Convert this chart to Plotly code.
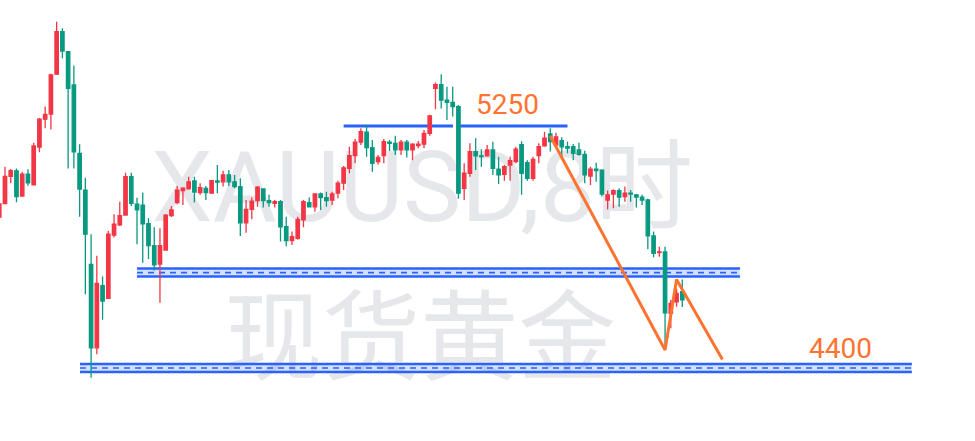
import plotly.graph_objects as go

# XAUUSD 8H candles, oldest first (prices)
opens = [4930, 4977, 5073, 5092, 5004, 5081, 5043, 5176, 5274, 5292,
         5432, 5581, 5511, 5394, 5154, 5025, 4764, 4471, 4689, 4645,
         4867, 4903, 4937, 5072, 4975, 4972, 4907, 4830, 4765, 4814,
         4935, 4981, 5023, 5029, 5057, 5016, 5031, 5014, 5057, 5054,
         5078, 5054, 5037, 4910, 4957, 4988, 5029, 4988, 4978, 4984,
         4896, 4847, 4855, 4920, 4981, 4966, 5011, 4998, 4990, 5014,
         5049, 5101, 5146, 5193, 5228, 5174, 5125, 5146, 5193, 5189,
         5166, 5193, 5166, 5181, 5186, 5224, 5382, 5395, 5341, 5333,
         5318, 5031, 5084, 5160, 5145, 5145, 5166, 5098, 5080, 5113,
         5125, 5184, 5121, 5066, 5146, 5180, 5222, 5183, 5198, 5177,
         5177, 5166, 5150, 5074, 5098, 5095, 4990, 5011, 5023, 5002,
         5014, 5008, 5000, 4990, 4864, 4805, 4808, 4592, 4632, 4668]
highs = [4983, 5107, 5099, 5101, 5089, 5098, 5191, 5278, 5318, 5433,
         5616, 5593, 5513, 5462, 5186, 5068, 4870, 4794, 4721, 4881,
         4940, 4984, 5086, 5086, 4998, 5016, 4926, 4894, 4891, 4941,
         4969, 5039, 5035, 5072, 5072, 5049, 5039, 5060, 5113, 5093,
         5095, 5078, 5066, 4990, 4999, 5039, 5030, 5008, 4990, 4990,
         4931, 4879, 4931, 4990, 4999, 5014, 5016, 5019, 5019, 5058,
         5109, 5177, 5204, 5242, 5253, 5201, 5148, 5204, 5201, 5216,
         5201, 5201, 5189, 5197, 5236, 5289, 5403, 5432, 5388, 5388,
         5324, 5119, 5189, 5207, 5168, 5183, 5195, 5142, 5113, 5142,
         5177, 5196, 5130, 5142, 5189, 5230, 5242, 5226, 5210, 5195,
         5187, 5191, 5163, 5107, 5121, 5098, 5023, 5028, 5031, 5037,
         5025, 5011, 5008, 4994, 4879, 4826, 4826, 4639, 4679, 4711]
lows = [4927, 4976, 5049, 4982, 5001, 5040, 5041, 5158, 5242, 5238,
        5429, 5488, 5101, 5101, 4931, 4659, 4366, 4448, 4569, 4642,
        4858, 4899, 4936, 4969, 4835, 4770, 4783, 4742, 4629, 4813,
        4930, 4975, 4972, 5027, 4981, 5008, 4990, 5012, 5014, 5037,
        5039, 5031, 4864, 4875, 4922, 4966, 4964, 4966, 4964, 4844,
        4828, 4832, 4850, 4894, 4964, 4949, 4955, 4966, 4972, 4996,
        5025, 5084, 5119, 5183, 5142, 5089, 5115, 5119, 5162, 5148,
        5148, 5139, 5130, 5172, 5172, 5216, 5309, 5311, 5271, 5283,
        4994, 4990, 5072, 5095, 5107, 5142, 5078, 5046, 5058, 5058,
        5119, 5008, 5058, 5058, 5119, 5177, 5160, 5177, 5142, 5154,
        5130, 5145, 5049, 5043, 5054, 5002, 4957, 4961, 4966, 4984,
        4984, 4964, 4972, 4817, 4789, 4791, 4467, 4540, 4615, 4614]
closes = [4976, 5073, 5093, 5002, 5081, 5050, 5180, 5274, 5291, 5429,
          5581, 5513, 5382, 5159, 5028, 4870, 4471, 4697, 4635, 4870,
          4905, 4935, 5072, 4978, 4955, 4906, 4830, 4762, 4830, 4937,
          4955, 5025, 5032, 5054, 5018, 5033, 5016, 5058, 5053, 5078,
          5054, 5037, 4910, 4957, 4986, 5035, 4988, 4981, 4984, 4896,
          4847, 4861, 4922, 4984, 4966, 5011, 4998, 4988, 5011, 5049,
          5103, 5146, 5193, 5230, 5174, 5119, 5140, 5195, 5189, 5166,
          5193, 5166, 5186, 5186, 5224, 5285, 5395, 5341, 5333, 5318,
          5014, 5084, 5160, 5145, 5142, 5166, 5101, 5078, 5107, 5128,
          5169, 5084, 5066, 5133, 5177, 5207, 5195, 5212, 5177, 5172,
          5154, 5150, 5078, 5098, 5093, 5011, 5008, 5023, 5000, 5014,
          5011, 5000, 4990, 4864, 4803, 4808, 4594, 4627, 4662, 4639]
bars = list(range(len(opens)))

# resistance line at 5250 (drawn as two pieces, bar index from/to)
resistance_price = 5250
resistance_from = [60, 80.1]
resistance_to = [79.05, 99]

# support channels: top / middle / bottom price, bar index from/to
band_top = [4749, 4414]
band_mid = [4735, 4400]
band_bottom = [4721, 4386]
band_from = [24, 14.07]
band_to = [129.05, 159]

# orange zigzag projection
path_bars = [96, 116, 118, 126]
path_prices = [5215, 4463, 4711, 4430]

# price labels
label_texts = ['5250', '4400']
label_bars = [88.6, 146.6]
label_prices = [5327, 4469]

watermark = ['XAUUSD,8时', '现货黄金']

RED = '#F23645'
GREEN = '#089981'
BLUE = '#2962FF'
ORANGE = '#FF7330'
FONT = "Roboto, 'Noto Sans CJK SC', sans-serif"

fig = go.Figure()

fig.add_trace(go.Candlestick(
    x=bars, open=opens, high=highs, low=lows, close=closes,
    increasing=dict(line=dict(color=RED, width=1.3), fillcolor=RED),
    decreasing=dict(line=dict(color=GREEN, width=1.3), fillcolor=GREEN),
    whiskerwidth=0,
    hoverinfo='skip',
))

fig.add_trace(go.Scatter(
    x=path_bars, y=path_prices, mode='lines',
    line=dict(color=ORANGE, width=3),
    hoverinfo='skip',
))

shapes = []
# watermark goes underneath everything
wm_boxes = [(0.233, 0.633, 0.49, 0.69), (0.231, 0.631, 0.149, 0.349)]
for text, (x0, x1, y0, y1) in zip(watermark, wm_boxes):
    shapes.append(dict(
        type='rect', xref='paper', yref='paper', x0=x0, x1=x1, y0=y0, y1=y1,
        line=dict(width=0), fillcolor='rgba(0,0,0,0)', layer='below',
        label=dict(text=text, textposition='middle center',
                   font=dict(family=FONT, size=98, color='rgba(178,181,190,0.33)')),
    ))

for top, mid, bot, x0, x1 in zip(band_top, band_mid, band_bottom, band_from, band_to):
    shapes.append(dict(type='rect', xref='x', yref='y', x0=x0, x1=x1, y0=bot, y1=top,
                       fillcolor='rgba(41,98,255,0.2)', line=dict(width=0), layer='below'))
    for level in (top, bot):
        shapes.append(dict(type='line', xref='x', yref='y', x0=x0, x1=x1, y0=level, y1=level,
                           line=dict(color=BLUE, width=2.5), layer='below'))
    shapes.append(dict(type='line', xref='x', yref='y', x0=x0, x1=x1, y0=mid, y1=mid,
                       line=dict(color=BLUE, width=1.6, dash='6px,5px'), layer='below'))

for x0, x1 in zip(resistance_from, resistance_to):
    shapes.append(dict(type='line', xref='x', yref='y', x0=x0, x1=x1,
                       y0=resistance_price, y1=resistance_price,
                       line=dict(color=BLUE, width=3), layer='below'))

annotations = []
for text, xb, yp in zip(label_texts, label_bars, label_prices):
    annotations.append(dict(x=xb, y=yp, xref='x', yref='y', text=text, showarrow=False,
                            font=dict(family=FONT, size=28, color=ORANGE)))

fig.update_layout(
    width=975, height=441,
    margin=dict(l=0, r=0, t=0, b=0),
    paper_bgcolor='white', plot_bgcolor='white',
    showlegend=False,
    boxgap=0.23, boxgroupgap=0.23,
    shapes=shapes, annotations=annotations,
    xaxis=dict(visible=False, range=[0.13, 170.0], rangeslider=dict(visible=False)),
    yaxis=dict(visible=False, range=[4143.6, 5692.4]),
)

fig.write_html("out.html", config={'displayModeBar': False},
               post_script="document.body.style.margin='0';")
